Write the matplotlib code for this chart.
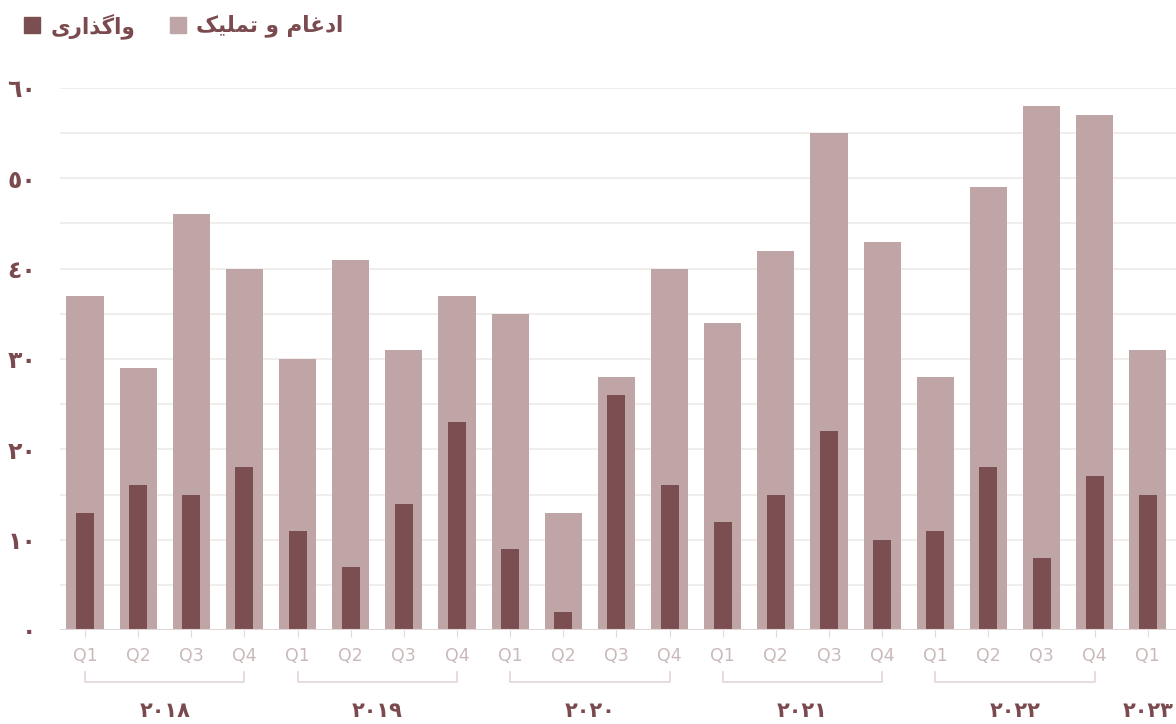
import matplotlib
matplotlib.use("Agg")
import matplotlib.pyplot as plt
from matplotlib.patches import Rectangle
import numpy as np

# ---- data ----
quarters = ["Q1", "Q2", "Q3", "Q4"] * 5 + ["Q1"]
years = ["٢٠١٨", "٢٠١٩", "٢٠٢٠", "٢٠٢١", "٢٠٢٢", "٢٠٢٣"]
merger = [37, 29, 46, 40, 30, 41, 31, 37, 35, 13, 28, 40, 34, 42, 55, 43, 28, 49, 58, 57, 31]
transfer = [13, 16, 15, 18, 11, 7, 14, 23, 9, 2, 26, 16, 12, 15, 22, 10, 11, 18, 8, 17, 15]
yticks = [0, 10, 20, 30, 40, 50, 60]
ytick_labels = ["٠", "١٠", "٢٠", "٣٠", "٤٠", "٥٠", "٦٠"]
label_merger = "ادغام و تملیک"
label_transfer = "واگذاری"

# ---- minimal Arabic/Persian shaping ----
FORMS = {
    'ا': ('\uFE8D', '\uFE8E', None, None),
    'د': ('\uFEA9', '\uFEAA', None, None),
    'ذ': ('\uFEAB', '\uFEAC', None, None),
    'ر': ('\uFEAD', '\uFEAE', None, None),
    'و': ('\uFEED', '\uFEEE', None, None),
    'غ': ('\uFECD', '\uFECE', '\uFECF', '\uFED0'),
    'م': ('\uFEE1', '\uFEE2', '\uFEE3', '\uFEE4'),
    'ت': ('\uFE95', '\uFE96', '\uFE97', '\uFE98'),
    'ل': ('\uFEDD', '\uFEDE', '\uFEDF', '\uFEE0'),
    'ی': ('\uFBFC', '\uFBFD', '\uFBFE', '\uFBFF'),
    'ک': ('\uFB8E', '\uFB8F', '\uFB90', '\uFB91'),
    'گ': ('\uFB92', '\uFB93', '\uFB94', '\uFB95'),
}


def shape(s):
    out = []
    for i, c in enumerate(s):
        if c not in FORMS:
            out.append(c)
            continue
        prev = s[i - 1] if i > 0 else None
        nxt = s[i + 1] if i + 1 < len(s) else None
        jp = prev in FORMS and FORMS[prev][2] is not None
        jn = nxt in FORMS and FORMS[c][2] is not None
        iso, fin, ini, med = FORMS[c]
        if jp and jn:
            out.append(med)
        elif jp:
            out.append(fin)
        elif jn:
            out.append(ini)
        else:
            out.append(iso)
    return ''.join(reversed(out))


DARK = "#7b4f51"
LIGHT = "#bfa5a6"
TEXT = "#7a4a4e"
QCOL = "#c9b9ba"
GRID = "#eeeaea"
AXC = "#e3d6d6"

plt.rcParams['font.family'] = ['DejaVu Sans']

fig = plt.figure(figsize=(11.76, 7.24), dpi=100)
ax = fig.add_axes([60 / 1176, (724 - 630) / 724, 1 - 60 / 1176, (630 - 88) / 724])

x = np.arange(len(merger))
ax.bar(x, merger, width=0.7, color=LIGHT, zorder=2)
ax.bar(x, transfer, width=0.34, color=DARK, zorder=3)

ax.set_xlim(-0.47, len(merger) - 0.47)
ax.set_ylim(0, 60)
ax.set_yticks(yticks)
ax.set_yticklabels(ytick_labels, fontsize=17, fontweight='bold', color=TEXT)
for yv in range(0, 61, 5):
    ax.axhline(yv, color=GRID, lw=1.2, zorder=1)
ax.axhline(0, color=AXC, lw=1.5, zorder=4)
ax.tick_params(axis='y', length=0, pad=17)
ax.set_xticks(x)
ax.set_xticklabels(quarters, fontsize=12.5, color=QCOL)
ax.tick_params(axis='x', length=5, color=AXC, pad=7)
for s in ax.spines.values():
    s.set_visible(False)

# year brackets and labels
tr = ax.get_xaxis_transform()
y_br = -(682 - 630) / 542
y_tk = -(672 - 630) / 542
y_yr = -(711 - 630) / 542
for i, yr in enumerate(years):
    x0 = i * 4
    x1 = min(i * 4 + 3, len(merger) - 1)
    if x1 > x0:
        ax.plot([x0, x0, x1, x1], [y_tk, y_br, y_br, y_tk], transform=tr,
                color=AXC, lw=1.2, clip_on=False)
    ax.text((x0 + x1) / 2, y_yr, yr, transform=tr, ha='center', va='center',
            fontsize=15, fontweight='bold', color=TEXT)

# legend (manual)
fig.patches.append(Rectangle((24 / 1176, 1 - 33 / 724), 16 / 1176, 16 / 724,
                             transform=fig.transFigure, color=DARK))
fig.text(51 / 1176, 1 - 26 / 724, shape(label_transfer), ha='left', va='center',
         fontsize=15.5, fontweight='bold', color=TEXT)
fig.patches.append(Rectangle((170 / 1176, 1 - 33 / 724), 16 / 1176, 16 / 724,
                             transform=fig.transFigure, color=LIGHT))
fig.text(196 / 1176, 1 - 26 / 724, shape(label_merger), ha='left', va='center',
         fontsize=15.5, fontweight='bold', color=TEXT)

fig.savefig("out.png", dpi=100)
